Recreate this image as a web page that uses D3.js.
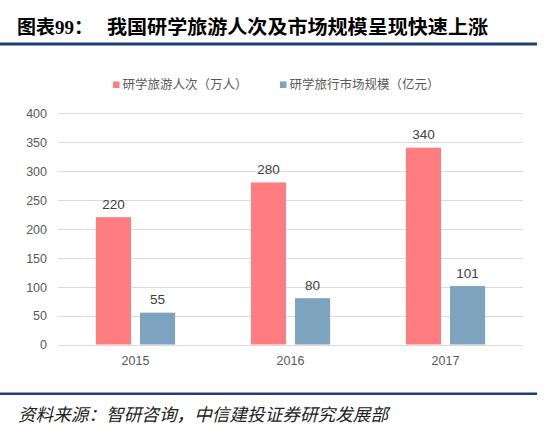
<!DOCTYPE html>
<html><head><meta charset="utf-8">
<script src="https://cdn.jsdelivr.net/npm/d3@7"></script>
<style>
html,body{margin:0;padding:0;background:#fff;}
svg{display:block;}
</style></head>
<body>
<svg id="chart" width="554" height="439"></svg>
<script>
const categories = ["2015", "2016", "2017"];
const seriesNames = ["研学旅游人次（万人）", "研学旅行市场规模（亿元）"];
const visitors = [220, 280, 340];
const marketSize = [55, 80, 101];
const yTicks = [0, 50, 100, 150, 200, 250, 300, 350, 400];
const colors = ["#FF7C80", "#7DA3BE"];

const svg = d3.select("#chart");
const cjk = "'Noto Sans CJK SC', 'Noto Sans', sans-serif";
const num = "'Liberation Sans', Arial, sans-serif";

// Title
const t = svg.append("text").attr("x", 17).attr("y", 34)
  .attr("font-size", 19).attr("font-weight", "bold").attr("fill", "#000")
  .attr("font-family", cjk);
t.append("tspan").text("图表");
t.append("tspan").attr("font-family", "'Liberation Serif', serif").text("99");
t.append("tspan").text("：");
svg.append("text").attr("x", 107).attr("y", 34)
  .attr("font-size", 19).attr("font-weight", "bold").attr("fill", "#000")
  .attr("font-family", cjk).attr("textLength", 381).attr("lengthAdjust", "spacingAndGlyphs")
  .text("我国研学旅游人次及市场规模呈现快速上涨");
svg.append("rect").attr("x", 0).attr("y", 42.5).attr("width", 537).attr("height", 3).attr("fill", "#1C3F77");

// Scales
const x0 = d3.scaleBand().domain(categories).range([58, 523]).paddingInner(0.489).paddingOuter(0.2445);
const x1 = d3.scaleBand().domain([0, 1]).range([0, x0.bandwidth()]).paddingInner(0.2045);
const y = d3.scaleLinear().domain([0, 400]).range([344.5, 113]);

// Grid
svg.append("g").selectAll("line").data(yTicks).join("line")
  .attr("x1", 58).attr("x2", 523)
  .attr("y1", d => Math.round(y(d)) + 0.5).attr("y2", d => Math.round(y(d)) + 0.5)
  .attr("stroke", "#D9D9D9").attr("stroke-width", 1);

// Y axis labels
const yAxis = d3.axisLeft(y).tickValues(yTicks).tickSize(0).tickPadding(0);
const ya = svg.append("g").attr("transform", "translate(47,0)").call(yAxis);
ya.select(".domain").remove();
ya.selectAll("text").attr("font-size", 12.5).attr("font-family", num).attr("fill", "#595959").attr("dy", "0.35em");

// X axis labels
const xAxis = d3.axisBottom(x0).tickSize(0).tickPadding(0);
const xa = svg.append("g").attr("transform", "translate(0,354)").call(xAxis);
xa.select(".domain").remove();
xa.selectAll("text").attr("font-size", 12.5).attr("font-family", num).attr("fill", "#595959").attr("dy", "0.9em");

// Bars
const data = categories.map((c, i) => ({c, vals: [visitors[i], marketSize[i]]}));
const groups = svg.append("g").selectAll("g").data(data).join("g")
  .attr("transform", d => `translate(${x0(d.c)},0)`);
groups.selectAll("rect").data(d => d.vals.map((v, k) => ({v, k}))).join("rect")
  .attr("x", d => x1(d.k)).attr("width", x1.bandwidth())
  .attr("y", d => y(d.v)).attr("height", d => y(0) - y(d.v))
  .attr("fill", d => colors[d.k]);
groups.selectAll("text").data(d => d.vals.map((v, k) => ({v, k}))).join("text")
  .attr("x", d => x1(d.k) + x1.bandwidth() / 2).attr("y", d => y(d.v) - 8.5)
  .attr("text-anchor", "middle").attr("font-size", 13.5).attr("font-family", num)
  .attr("fill", "#404040").text(d => d.v);

// Legend
const legendX = [113, 280];
const lg = svg.append("g").selectAll("g").data(seriesNames).join("g")
  .attr("transform", (d, i) => `translate(${legendX[i]},85)`);
lg.append("rect").attr("x", 0).attr("y", -3.5).attr("width", 6.5).attr("height", 6.5)
  .attr("fill", (d, i) => colors[i]);
lg.append("text").attr("x", 9.5).attr("y", 0).attr("dy", "0.35em")
  .attr("font-size", 12.5).attr("font-family", cjk).attr("fill", "#595959").text(d => d);

// Footer
svg.append("rect").attr("x", 0).attr("y", 392.5).attr("width", 537).attr("height", 2.5).attr("fill", "#1C3F77");
svg.append("text").attr("x", 18).attr("y", 420.5)
  .attr("font-size", 17.5).attr("font-style", "italic").attr("fill", "#222")
  .attr("font-family", cjk).attr("textLength", 370).attr("lengthAdjust", "spacingAndGlyphs")
  .text("资料来源：智研咨询，中信建投证券研究发展部");
</script>
</body></html>
